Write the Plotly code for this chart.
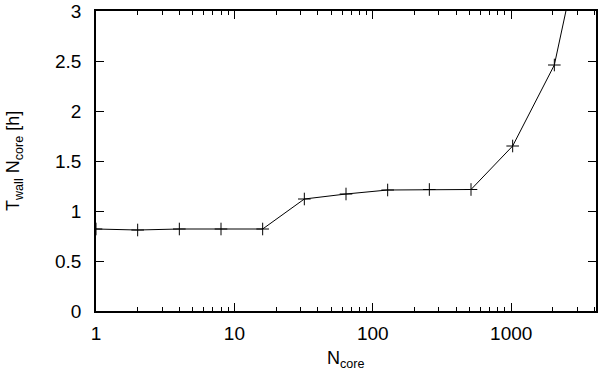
import numpy as np
import plotly.graph_objects as go

# wall time x core count vs number of cores
n_core = [1, 2, 4, 8, 16, 32, 64, 128, 256, 512, 1024, 2048, 4096]
t_wall_ncore = [0.82, 0.81, 0.82, 0.82, 0.82, 1.12, 1.17, 1.21, 1.215, 1.215, 1.65, 2.46, 4.4]

x_ticks = [1, 10, 100, 1000]
y_ticks = [0, 0.5, 1, 1.5, 2, 2.5, 3]

FONT = "Liberation Sans, Arial, Helvetica, sans-serif"

fig = go.Figure()
fig.add_trace(go.Scatter(
    x=n_core, y=t_wall_ncore, mode="lines+markers",
    line=dict(color="black", width=1),
    marker=dict(symbol="cross-thin", size=9, line=dict(color="black", width=1)),
    showlegend=False,
))

axis_common = dict(
    showline=True, linecolor="black", linewidth=1.5, mirror="allticks",
    ticks="inside", ticklen=8, tickcolor="black", tickwidth=1,
    showgrid=False, zeroline=False, automargin=False,
    tickfont=dict(family=FONT, size=19, color="black"),
)

fig.update_xaxes(
    type="log", range=[0, np.log10(4096)],
    tickvals=x_ticks, ticktext=[str(v) for v in x_ticks],
    minor=dict(ticks="inside", ticklen=4, tickcolor="black", tickwidth=1,
               tickvals=[m * d for d in [1, 10, 100, 1000] for m in range(2, 10)]),
    ticklabelstandoff=4,
    **axis_common,
)
fig.update_yaxes(
    range=[0, 3], tickvals=y_ticks, ticktext=[f"{v:g}" for v in y_ticks],
    ticklabelstandoff=9,
    **axis_common,
)

# axis titles as annotations so they sit where gnuplot put them
fig.add_annotation(text="N<sub>core</sub>", xref="paper", yref="paper",
                   x=0.5, y=-0.118, xanchor="center", yanchor="top", showarrow=False,
                   font=dict(family=FONT, size=18, color="black"))
fig.add_annotation(text="T<sub>wall</sub> N<sub>core</sub> [h]", xref="paper", yref="paper",
                   x=-0.164, y=0.5, xanchor="center", yanchor="middle", textangle=-90,
                   showarrow=False, font=dict(family=FONT, size=18, color="black"))

fig.update_layout(
    width=600, height=374,
    margin=dict(l=96, r=4, t=11, b=63),
    plot_bgcolor="white", paper_bgcolor="white",
    font=dict(family=FONT, color="black"),
)

# drop the default page margin so the figure sits at the window corner
fig.write_html("out.html", config={"displayModeBar": False},
               post_script="document.body.style.margin = '0px';")
